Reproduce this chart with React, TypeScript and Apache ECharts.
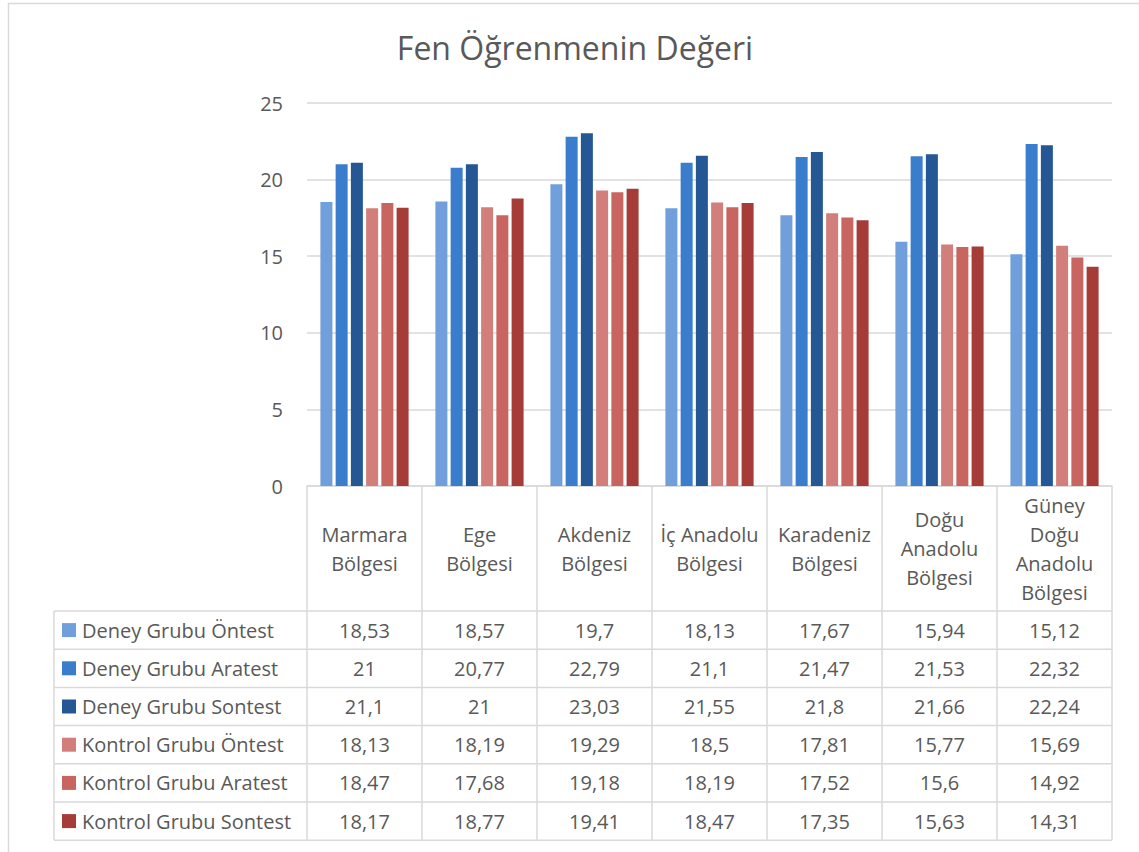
import React, { useEffect, useRef } from "react";
import * as echarts from "echarts";

const categoryLabels = [
  "Marmara\nBölgesi",
  "Ege\nBölgesi",
  "Akdeniz\nBölgesi",
  "İç Anadolu\nBölgesi",
  "Karadeniz\nBölgesi",
  "Doğu\nAnadolu\nBölgesi",
  "Güney\nDoğu\nAnadolu\nBölgesi",
];
const seriesNames = [
  "Deney Grubu Öntest",
  "Deney Grubu Aratest",
  "Deney Grubu Sontest",
  "Kontrol Grubu Öntest",
  "Kontrol Grubu Aratest",
  "Kontrol Grubu Sontest",
];
const deneyOntest = [18.53, 18.57, 19.7, 18.13, 17.67, 15.94, 15.12];
const deneyAratest = [21, 20.77, 22.79, 21.1, 21.47, 21.53, 22.32];
const deneySontest = [21.1, 21, 23.03, 21.55, 21.8, 21.66, 22.24];
const kontrolOntest = [18.13, 18.19, 19.29, 18.5, 17.81, 15.77, 15.69];
const kontrolAratest = [18.47, 17.68, 19.18, 18.19, 17.52, 15.6, 14.92];
const kontrolSontest = [18.17, 18.77, 19.41, 18.47, 17.35, 15.63, 14.31];
const seriesValues = [deneyOntest, deneyAratest, deneySontest, kontrolOntest, kontrolAratest, kontrolSontest];
const seriesColors = ["#709FDB", "#3A7DCC", "#245793", "#D27F7B", "#C86560", "#A53C38"];
const yMin = 0;
const yMax = 25;
const yInterval = 5;
const titleText = "Fen Öğrenmenin Değeri";

const FONT = "'Open Sans', 'Noto Sans', sans-serif";
const TEXT = "#595959";
const LINE = "#D9D9D9";

export default function App() {
  const ref = useRef<HTMLDivElement>(null);
  useEffect(() => {
    if (!ref.current) return;
    const chart = echarts.init(ref.current, null, { renderer: "svg" });

    const plotLeft = 307;
    const plotRight = 1112;
    const plotTop = 103;
    const plotBottom = 486;
    const W = 1139;
    const H = 852;
    const n = categoryLabels.length;
    const cellW = (plotRight - plotLeft) / n;
    const headerBottom = 611;
    const rowH = 38.2;
    const tableLeft = 54;
    const tableBottom = headerBottom + rowH * seriesNames.length;

    const fmt = (v: number) => String(v).replace(".", ",");

    const graphics: any[] = [];
    // outer chart border
    graphics.push({
      type: "rect",
      shape: { x: 8.5, y: 3.5, width: 1300, height: 1000 },
      style: { fill: "none", stroke: LINE, lineWidth: 1.5 },
      silent: true,
    });
    // title
    graphics.push({
      type: "text",
      x: 575,
      y: 47,
      style: { text: titleText, font: `32px ${FONT}`, fill: TEXT, align: "center", verticalAlign: "middle" },
    });
    // header vertical lines
    for (let i = 0; i <= n; i++) {
      const x = plotLeft + i * cellW;
      graphics.push({
        type: "line",
        shape: { x1: x, y1: plotBottom, x2: x, y2: tableBottom },
        style: { stroke: LINE, lineWidth: 1.5 },
      });
    }
    graphics.push({
      type: "line",
      shape: { x1: tableLeft, y1: headerBottom, x2: tableLeft, y2: tableBottom },
      style: { stroke: LINE, lineWidth: 1.5 },
    });
    for (let r = 0; r <= seriesNames.length; r++) {
      const y = headerBottom + r * rowH;
      graphics.push({
        type: "line",
        shape: { x1: tableLeft, y1: y, x2: plotRight, y2: y },
        style: { stroke: LINE, lineWidth: 1.5 },
      });
    }
    // category header labels
    categoryLabels.forEach((c, i) => {
      graphics.push({
        type: "text",
        x: plotLeft + (i + 0.5) * cellW,
        y: (plotBottom + headerBottom) / 2,
        style: { text: c, font: `20px ${FONT}`, fill: TEXT, align: "center", verticalAlign: "middle", lineHeight: 29 },
      });
    });
    // rows
    seriesNames.forEach((name, r) => {
      const cy = headerBottom + (r + 0.5) * rowH;
      graphics.push({
        type: "rect",
        shape: { x: 62, y: cy - 7, width: 14, height: 14 },
        style: { fill: seriesColors[r] },
      });
      graphics.push({
        type: "text",
        x: 82,
        y: cy,
        style: { text: name, font: `20px ${FONT}`, fill: TEXT, align: "left", verticalAlign: "middle" },
      });
      seriesValues[r].forEach((v, i) => {
        graphics.push({
          type: "text",
          x: plotLeft + (i + 0.5) * cellW,
          y: cy,
          style: { text: fmt(v), font: `20px ${FONT}`, fill: TEXT, align: "center", verticalAlign: "middle" },
        });
      });
    });

    chart.setOption({
      animation: false,
      backgroundColor: "#ffffff",
      grid: { left: plotLeft, right: W - plotRight, top: plotTop, bottom: H - plotBottom, containLabel: false },
      xAxis: {
        type: "category",
        data: categoryLabels,
        axisLine: { show: true, lineStyle: { color: LINE, width: 1.5 } },
        axisTick: { show: false },
        axisLabel: { show: false },
      },
      yAxis: {
        type: "value",
        min: yMin,
        max: yMax,
        interval: yInterval,
        axisLine: { show: false },
        axisTick: { show: false },
        axisLabel: { fontSize: 20, fontFamily: FONT, color: TEXT, margin: 24 },
        splitLine: { lineStyle: { color: LINE, width: 1.5 } },
      },
      series: seriesNames.map((name, k) => ({
        type: "bar",
        name,
        data: seriesValues[k],
        barWidth: 12,
        barGap: "27%",
        itemStyle: { color: seriesColors[k] },
      })),
      graphic: graphics,
    });
    return () => chart.dispose();
  }, []);
  return <div ref={ref} style={{ position: "fixed", left: 0, top: 0, width: 1139, height: 852 }} />;
}
